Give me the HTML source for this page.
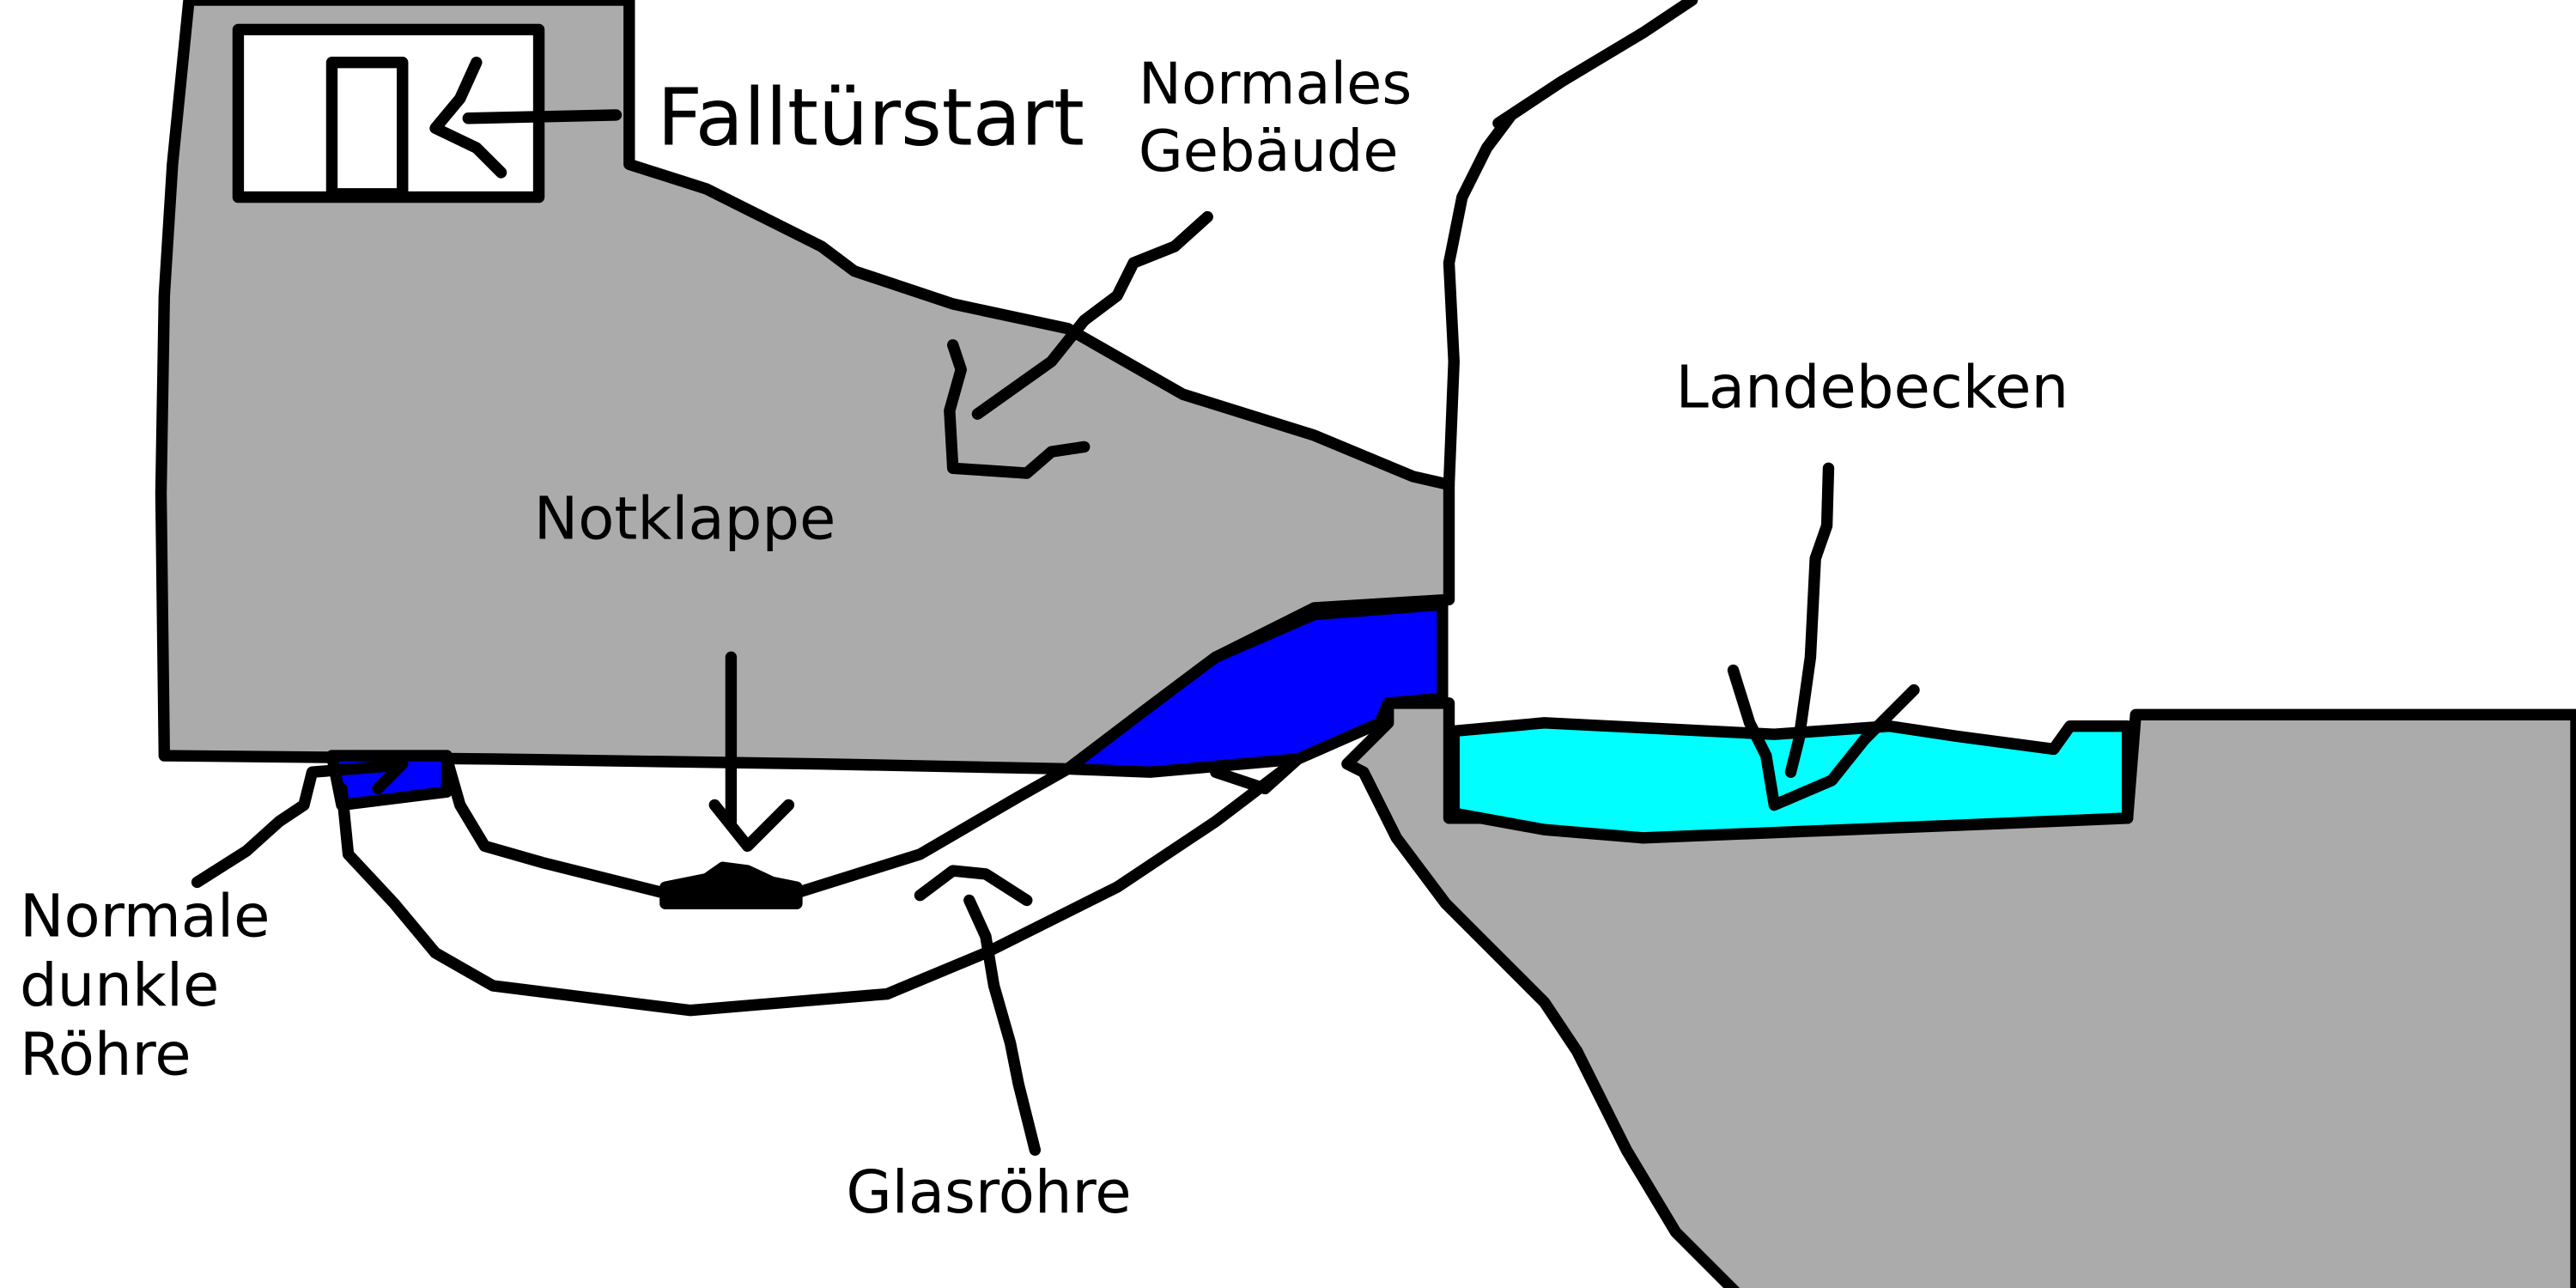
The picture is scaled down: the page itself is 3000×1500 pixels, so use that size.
<!DOCTYPE html>
<html><head><meta charset="utf-8"><style>
html,body{margin:0;padding:0;background:#fff;width:3000px;height:1500px;overflow:hidden}
svg{display:block}
text{font-family:"DejaVu Sans","Liberation Sans",sans-serif;fill:#000}
</style></head><body>
<svg width="3000" height="1500" viewBox="0 0 1568 784" preserveAspectRatio="none">
<g stroke="#000" stroke-width="7" stroke-linejoin="round" stroke-linecap="round">
<path fill="#ababab" d="M115,0 L383,0 L383,100 L430,115 L460,130 L500,150 L520,165 L580,185 L650,200 L720,240 L800,265 L860,290 L882,295 L882,365 L800,370 L740,400 L700,430 L650,468 L500,465 L300,462 L100,460 L98,300 L100,180 L105,100 Z"/>
<path fill="#0000ff" d="M650,468 L700,430 L740,400 L800,374 L878,368 L878,425 L845,428 L840,440 L790,462 L700,470 Z"/>
<rect x="145" y="18" width="183" height="102" fill="#fff"/>
<rect x="202" y="38" width="43" height="80" fill="#fff"/>
<path fill="#0000ff" d="M202,460 L272,460 L272,482 L208,490 Z"/>
<path fill="#ababab" d="M1300,435 L1568,435 L1568,790 L1060,790 L1020,750 L990,700 L960,640 L940,610 L900,570 L880,550 L850,510 L830,470 L820,465 L845,440 L845,428 L882,428 L882,498 L1295,498 L1300,435 Z"/>
<path fill="#00ffff" d="M885,445 L940,440 L1000,443 L1080,447 L1150,442 L1190,448 L1250,456 L1260,442 L1295,442 L1295,498 L1200,502 L1100,506 L1000,510 L940,505 L885,495 Z"/>
<g fill="none">
<path d="M882,295 L885,220 L882,160 L890,120 L905,90 L920,70 L950,50 L1000,20 L1030,0"/>
<path d="M912,75 L950,50"/>
<path d="M272,462 L280,490 L295,515 L330,525 L410,545 L480,545 L560,520 L620,485 L650,468"/>
<path d="M208,480 L212,520 L240,550 L265,580 L300,600 L420,615 L540,605 L600,580 L640,560 L680,540 L740,500 L790,462"/>
<path d="M740,470 L770,480 L790,462"/>
<path d="M445,400 L445,500"/><path d="M435,490 L455,515 L480,490"/>
<path d="M285,72 L375,70"/><path d="M290,38 L280,60 L265,78 L290,90 L305,105"/>
<path d="M735,132 L715,150 L690,160 L680,180 L660,195 L640,220 L595,252"/>
<path d="M580,210 L585,225 L578,250 L580,285 L625,288 L640,275 L660,272"/>
<path d="M1113,285 L1112,320 L1105,340 L1102,400 L1095,450 L1090,470"/>
<path d="M1055,408 L1065,440 L1075,460 L1080,490 L1115,475 L1135,450 L1165,420"/>
<path d="M630,700 L620,660 L615,635 L605,600 L600,570 L590,548"/>
<path d="M560,545 L580,530 L600,532 L625,548"/>
<path d="M120,537 L150,518 L170,500 L185,490 L190,470 L240,466"/><path d="M230,480 L245,465"/>
</g>
<path d="M405,540 L430,535 L440,528 L455,530 L470,537 L485,540 L485,550 L405,550 Z" fill="#000"/>
</g>
<text x="400" y="88" font-size="48">Falltürstart</text>
<text x="693" y="63" font-size="35">Normales</text>
<text x="693" y="104" font-size="35">Gebäude</text>
<text x="325" y="328" font-size="36">Notklappe</text>
<text x="1020" y="248" font-size="36">Landebecken</text>
<text x="12" y="570" font-size="36">Normale</text>
<text x="12" y="612" font-size="36">dunkle</text>
<text x="12" y="654" font-size="36">Röhre</text>
<text x="515" y="738" font-size="36">Glasröhre</text>
</svg>
</body></html>
